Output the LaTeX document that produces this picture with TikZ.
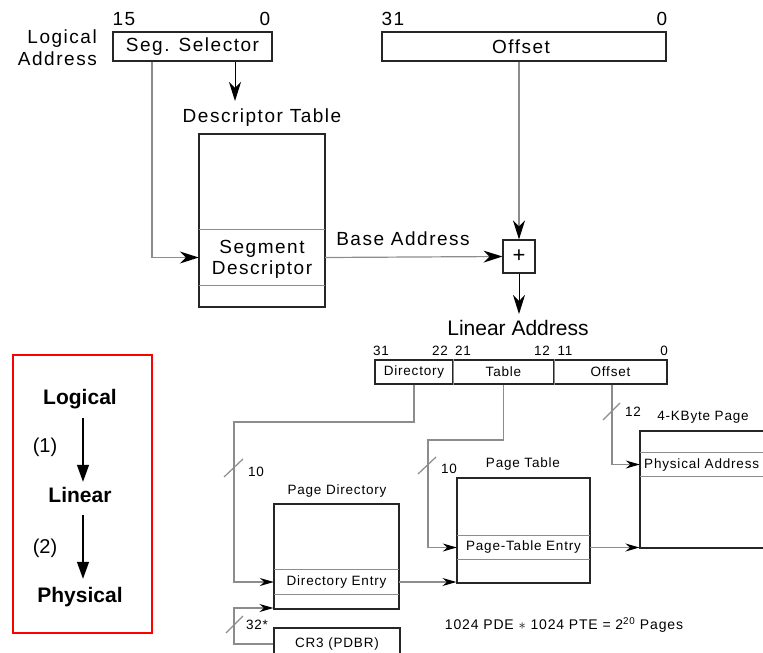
\documentclass[tikz,border=0pt]{standalone}
\usepackage{fontspec}
\setmainfont{Liberation Sans}
\newfontfamily\spaced[LetterSpace=8]{Liberation Sans}
\newfontfamily\spacedsm[LetterSpace=6]{Liberation Sans}
\usetikzlibrary{arrows.meta}
\definecolor{lineg}{HTML}{8C8C8C}
\definecolor{boxk}{HTML}{262626}
\begin{document}
\begin{tikzpicture}[x=1pt,y=-1pt,
  big/.style={font=\spaced\fontsize{19}{22}\selectfont, inner sep=0pt},
  sm/.style={font=\spacedsm\fontsize{13.5}{15}\selectfont, inner sep=0pt},
  obox/.style={draw=boxk, line width=1.1pt, inner sep=0pt},
  rowc/.style={inner sep=0pt},
  conn/.style={draw=lineg, line width=1.2pt},
  bigarr/.style={-{Stealth[length=19pt,width=12pt,inset=6pt,color=black]}},
  smarr/.style={-{Stealth[length=14pt,width=8pt,inset=4.5pt,color=black]}},
  redarr/.style={-{Triangle[length=17pt,width=12pt]}, line width=1.3pt, black},
  rtxt/.style={font=\fontsize{21}{24}\selectfont\bfseries, inner sep=0pt, text depth=0pt, text height=15pt, anchor=base},
  ptxt/.style={font=\fontsize{20}{24}\selectfont, inner sep=0pt}
]
\clip (0,0) rectangle (763,653);
\useasboundingbox (0,0) rectangle (763,653);

% ---------- logical address ----------
\node[big, align=right, anchor=east] (la) at (97,48) {Logical\\Address};
\node[big] (b15) at (124,19) {15};
\node[big] (b0a) at (265,19) {0};
\node[obox, minimum width=159pt, minimum height=29pt] (sel) at (192.5,46.5) {};
\node[big] (selt) at (sel) {Seg. Selector};
\node[big] (b31) at (393,19) {31};
\node[big] (b0b) at (662,19) {0};
\node[obox, minimum width=284pt, minimum height=29pt] (off) at (524,46.5) {};
\node[big] (offt) at (521,46.5) {Offset};

% ---------- descriptor table ----------
\node[big] (dtt) at (262,118) {Descriptor Table};
\node[obox, minimum width=126pt, minimum height=173pt] (dt) at (262,220.5) {};
\node[rowc, minimum width=126pt, minimum height=55pt] (seg) at (262,257.5) {};
\draw[draw=lineg, line width=1pt] (seg.north west) -- (seg.north east) (seg.south west) -- (seg.south east);
\node[big, align=center] (segt) at (262,259) {Segment\\[-1pt]Descriptor};

\node[obox, minimum width=32pt, minimum height=33pt] (plus) at (519,256.5) {};
\node[font=\fontsize{22}{24}\selectfont, inner sep=0pt] (plust) at (plus) {+};
\node[big] (base) at (403,239) {Base Address};

\coordinate (dtop) at (235,101);
\coordinate (c152) at (152,0);
\draw[black, line width=1pt, bigarr] (sel.south -| dtop) -- (dtop);
\draw[conn, bigarr] (sel.south -| c152) |- (seg.west);
\draw[conn, bigarr] (seg.east) -- (plus.west);
\draw[conn, bigarr] (off.south -| plus) -- (plus.north);
\coordinate (lintop) at (519,314);
\draw[black, line width=1pt, bigarr] (plus.south) -- (lintop);

% ---------- linear address ----------
\node[font=\fontsize{21}{24}\selectfont, inner sep=0pt] (lat) at (518,328) {Linear Address};
\node[sm] (l31) at (381,351) {31};
\node[sm] (l22) at (440,351) {22};
\node[sm] (l21) at (463,351) {21};
\node[sm] (l12) at (542,351) {12};
\node[sm] (l11) at (565,351) {11};
\node[sm] (l0) at (664,351) {0};
\node[obox, minimum width=78pt, minimum height=24pt] (dir) at (414,372) {};
\node[obox, minimum width=101pt, minimum height=24pt] (tab) at (503.5,372) {};
\node[obox, minimum width=113pt, minimum height=24pt] (offs) at (610.5,372) {};
\draw[draw=lineg, line width=1pt] (dir.north east) -- (dir.south east) (tab.north east) -- (tab.south east);
\node[sm] (dirt) at (dir) {Directory};
\node[sm] (tabt) at (tab) {Table};
\node[sm] (offst) at (offs) {Offset};

% ---------- page directory ----------
\node[sm] (pdt) at (337,491) {Page Directory};
\node[obox, minimum width=125pt, minimum height=105pt] (pd) at (336.5,556.5) {};
\node[rowc, minimum width=125pt, minimum height=24pt] (pdr) at (336.5,582) {};
\draw[draw=lineg, line width=1pt] (pdr.north west) -- (pdr.north east) (pdr.south west) -- (pdr.south east);
\node[sm] (pdrt) at (pdr) {Directory Entry};

\node[obox, minimum width=126pt, minimum height=42pt] (cr3) at (337,649) {};
\node[sm] (cr3t) at (337,644) {CR3 (PDBR)};

% ---------- page table ----------
\node[sm] (ptt) at (523,464) {Page Table};
\node[obox, minimum width=133pt, minimum height=105pt] (pt) at (523.5,530.5) {};
\node[rowc, minimum width=133pt, minimum height=23pt] (ptr) at (523.5,547.5) {};
\draw[draw=lineg, line width=1pt] (ptr.north west) -- (ptr.north east) (ptr.south west) -- (ptr.south east);
\node[sm] (ptrt) at (ptr) {Page-Table Entry};

% ---------- 4K page ----------
\node[sm] (pgt) at (703,417) {4-KByte Page};
\node[obox, minimum width=160pt, minimum height=117pt] (pg) at (720,489.5) {};
\node[rowc, minimum width=160pt, minimum height=23pt] (pgr) at (720,464.5) {};
\draw[draw=lineg, line width=1pt] (pgr.north west) -- (pgr.north east) (pgr.south west) -- (pgr.south east);
\node[sm, anchor=west] (pgrt) at (644,465) {Physical Address};

% ---------- paging connectors ----------
\coordinate (c234) at (234,422);
\draw[conn, smarr] (dir.south) |- (c234) -- (c234 |- pdr.west) -- (pdr.west);
\coordinate (c428) at (428,440);
\draw[conn, smarr] (tab.south) |- (c428) -- (c428 |- ptr.west) -- (ptr.west);
\coordinate (c612) at (612,0);
\draw[conn, smarr] (offs.south -| c612) |- (pgr.west);
\draw[conn, smarr] (pdr.east) -- (pdr.east -| pt.west);
\draw[conn, smarr] (ptr.east) -- (ptr.east -| pg.west);
\coordinate (c32) at (234,608);
\draw[conn, smarr] (cr3.west |- cr3t) -| (c32) -- (c32 -| pd.west);

% slashes
\draw[conn] (224,477) -- (243,459);
\node[sm] (s10a) at (256,472) {10};
\draw[conn] (418,474) -- (436,457);
\node[sm] (s10b) at (449,469) {10};
\draw[conn] (603,420) -- (620,403);
\node[sm] (s12) at (633,412) {12};
\draw[conn] (226,633) -- (243,616);
\node[sm] (s32) at (257,625) {32*};

\node[sm, font=\spacedsm\fontsize{14}{16}\selectfont] (form) at (564,625) {1024 PDE $\ast$ 1024 PTE = 2\textsuperscript{20} Pages};

% ---------- red box ----------
\node[draw=red, line width=1.3pt, minimum width=139pt, minimum height=278pt, inner sep=0pt] (rb) at (82.5,494) {};
\node[rtxt] (lg) at (80,404.5) {Logical};
\node[rtxt] (ln) at (80,502) {Linear};
\node[rtxt] (ph) at (80,602) {Physical};
\node[ptxt] (n1) at (45,447) {(1)};
\node[ptxt] (n2) at (45,548) {(2)};
\draw[redarr, shorten <=13.5pt, shorten >=5pt] ([xshift=3pt]lg.south) -- ([xshift=3pt]ln.north);
\draw[redarr, shorten <=13pt, shorten >=8pt] ([xshift=3pt]ln.south) -- ([xshift=3pt]ph.north);
\end{tikzpicture}
\end{document}
